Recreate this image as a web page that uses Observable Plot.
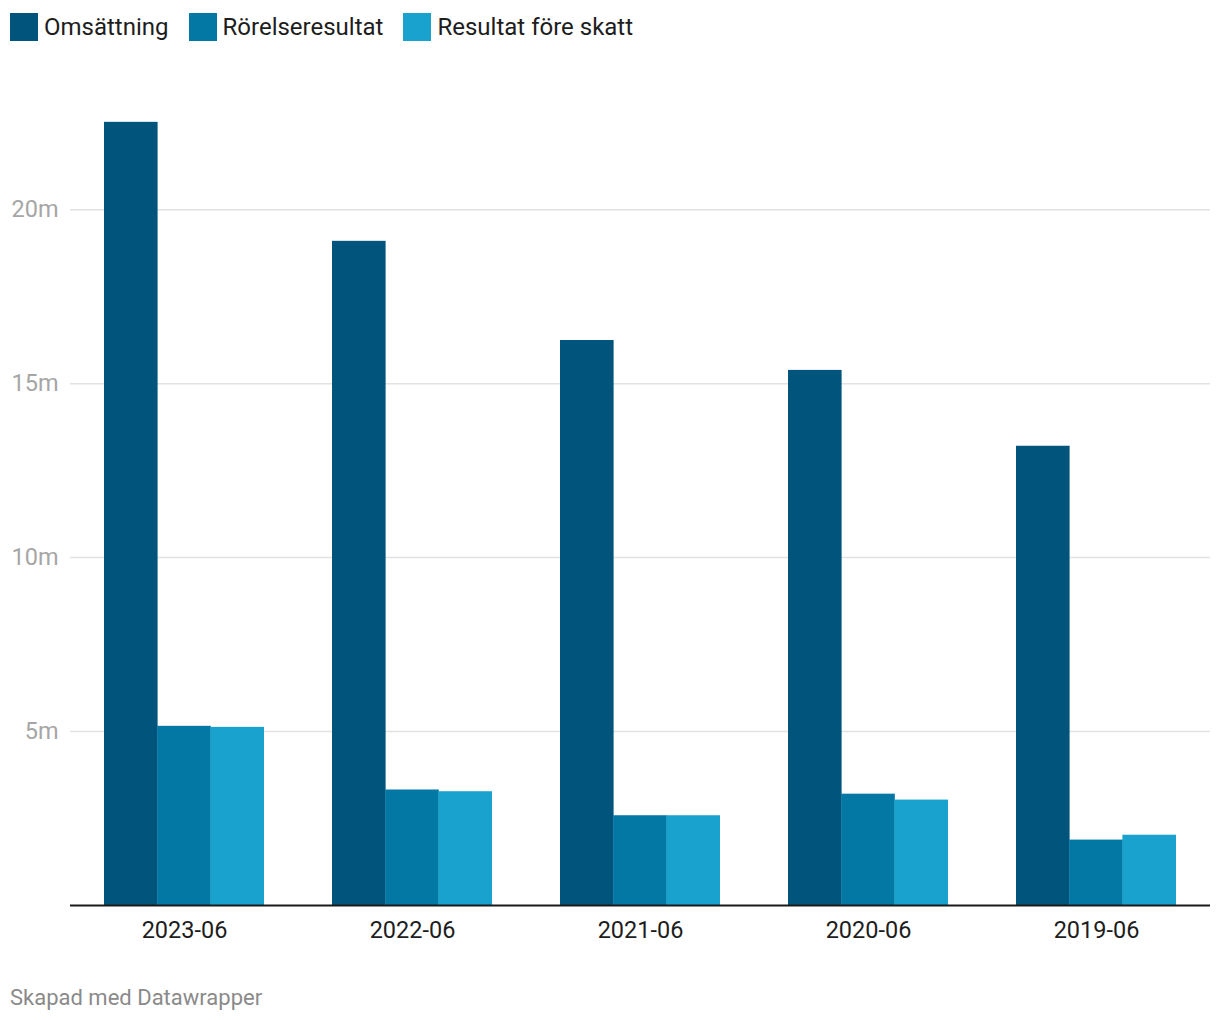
<!DOCTYPE html>
<html>
<head>
<meta charset="utf-8">
<script src="https://cdn.jsdelivr.net/npm/d3@7"></script>
<script src="https://cdn.jsdelivr.net/npm/@observablehq/plot@0.6"></script>
<style>
  html, body { margin: 0; padding: 0; background: #fff; }
  body { width: 1220px; height: 1020px; font-family: Roboto, "Noto Sans", sans-serif; position: relative; overflow: hidden; }
  #legend { position: absolute; left: 10px; top: 13px; display: flex; align-items: center; height: 28px; }
  .item { display: flex; align-items: center; margin-right: 20px; }
  .sw { width: 28px; height: 28px; margin-right: 6px; }
  .lab { font-size: 24px; color: #1d1d1d; line-height: 28px; }
  #chart { position: absolute; left: 0; top: 55px; }
  #footer { position: absolute; left: 10px; top: 985px; font-size: 22px; color: #8a8a8a; }
</style>
</head>
<body>
<div id="legend"></div>
<div id="chart"></div>
<div id="footer">Skapad med Datawrapper</div>
<script>
const periods = ["2023-06", "2022-06", "2021-06", "2020-06", "2019-06"];
const seriesNames = ["Omsättning", "Rörelseresultat", "Resultat före skatt"];
const omsattning = [22.51, 19.09, 16.24, 15.38, 13.2];
const rorelseresultat = [5.15, 3.32, 2.58, 3.2, 1.88];
const resultatForeSkatt = [5.12, 3.27, 2.58, 3.03, 2.02];
const yTicks = [5, 10, 15, 20];
const colors = ["#01547b", "#0378a5", "#19a2ce"];

const seriesValues = [omsattning, rorelseresultat, resultatForeSkatt];
const tables = seriesValues.map((vals, s) =>
  periods.map((p, i) => ({ period: p, series: seriesNames[s], value: vals[i] })));

// legend
const legend = document.getElementById("legend");
seriesNames.forEach((name, i) => {
  const it = document.createElement("div");
  it.className = "item";
  it.innerHTML = `<div class="sw" style="background:${colors[i]}"></div><div class="lab">${name}</div>`;
  legend.appendChild(it);
});

const width = 1220, marginLeft = 70, marginRight = 10;
const padIn = 0.3, padOut = 0.15;
const step = (width - marginLeft - marginRight) / (periods.length - padIn + 2 * padOut);
const bw = step * (1 - padIn);
const sub = bw / seriesNames.length;

const barMarks = tables.map((t, s) => Plot.barY(t, {
  x: "period",
  y: "value",
  fill: colors[s],
  insetLeft: s * sub,
  insetRight: (seriesNames.length - 1 - s) * sub
}));

const chart = Plot.plot({
  width,
  height: 910,
  marginLeft,
  marginRight,
  marginTop: 15,
  marginBottom: 60,
  style: { fontFamily: "Roboto, sans-serif", background: "transparent" },
  x: { domain: periods, paddingInner: padIn, paddingOuter: padOut, label: null },
  y: { domain: [0, 24], label: null },
  marks: [
    Plot.ruleY(yTicks, { stroke: "#e2e2e2", strokeWidth: 1.5 }),
    ...barMarks,
    Plot.ruleY([0], { stroke: "#1a1a1a", strokeWidth: 2 }),
    Plot.axisY(yTicks, { tickSize: 0, tickPadding: 12, tickFormat: d => d + "m", fontSize: 23.5, color: "#a6a6a6", label: null }),
    Plot.axisX({ tickSize: 0, tickPadding: 16, fontSize: 23.5, color: "#1d1d1d", label: null })
  ]
});
document.getElementById("chart").appendChild(chart);
</script>
</body>
</html>
